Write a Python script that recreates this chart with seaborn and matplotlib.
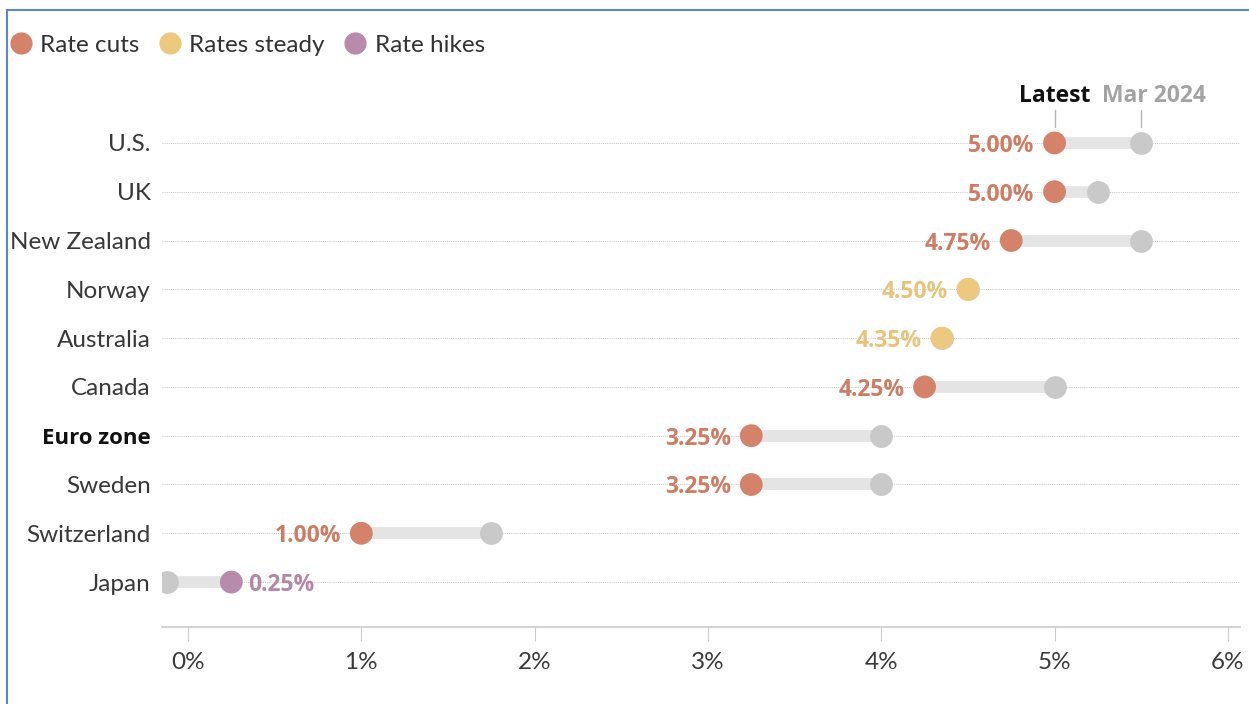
import matplotlib
matplotlib.use("Agg")
import matplotlib.pyplot as plt
import matplotlib.patches as mpatches
from matplotlib.lines import Line2D
import seaborn as sns
import pandas as pd

countries = ["U.S.", "UK", "New Zealand", "Norway", "Australia", "Canada",
             "Euro zone", "Sweden", "Switzerland", "Japan"]
latest = [5.00, 5.00, 4.75, 4.50, 4.35, 4.25, 3.25, 3.25, 1.00, 0.25]
mar2024 = [5.50, 5.25, 5.50, 4.50, 4.35, 5.00, 4.00, 4.00, 1.75, -0.12]
status = ["Rate cuts", "Rate cuts", "Rate cuts", "Rates steady", "Rates steady",
          "Rate cuts", "Rate cuts", "Rate cuts", "Rate cuts", "Rate hikes"]
xticks = [0, 1, 2, 3, 4, 5, 6]

palette = {"Rate cuts": "#d4836a", "Rates steady": "#edc97f", "Rate hikes": "#b88aab"}
text_col = {"Rate cuts": "#cf7c62", "Rates steady": "#e9c37a", "Rate hikes": "#b487a7"}

sns.set_theme(style="white")
plt.rcParams["font.family"] = ["Lato", "DejaVu Sans"]

df = pd.DataFrame({"country": countries, "latest": latest, "mar": mar2024, "status": status})
df["y"] = range(len(df))

fig = plt.figure(figsize=(12.49, 7.04), dpi=100)
ax = fig.add_axes([0.1297, 0.1094, 0.8631, 0.7486])

# dotted gridlines
for yv in df["y"]:
    ax.axhline(yv, color="#c4c4c4", lw=0.7, ls=(0, (1, 1.2)), zorder=0)

# range bars
ax.hlines(df["y"], df[["latest", "mar"]].min(axis=1), df[["latest", "mar"]].max(axis=1),
          color="#e4e4e4", lw=8.5, zorder=1)

sns.scatterplot(data=df, x="mar", y="y", color="#c9c9c9", s=270, linewidth=0,
                ax=ax, zorder=2, legend=False)
sns.scatterplot(data=df, x="latest", y="y", hue="status", palette=palette, s=270,
                linewidth=0, ax=ax, zorder=3, legend=False)

bold_font = ["Open Sans", "DejaVu Sans"]
for _, r in df.iterrows():
    if r["status"] == "Rate hikes":
        ax.annotate(f"{r['latest']:.2f}%", (r["latest"], r["y"]), xytext=(12, 0),
                    textcoords="offset points", ha="left", va="center_baseline",
                    fontsize=16.5, fontweight="bold", color=text_col[r["status"]],
                    family=bold_font)
    else:
        ax.annotate(f"{r['latest']:.2f}%", (r["latest"], r["y"]), xytext=(-14.5, 0),
                    textcoords="offset points", ha="right", va="center_baseline",
                    fontsize=16.5, fontweight="bold", color=text_col[r["status"]],
                    family=bold_font)

ax.set_xlim(-0.15, 6.07)
ax.set_ylim(9.92, -0.88)
ax.set_yticks(df["y"])
ax.set_yticklabels(countries)
for lab in ax.get_yticklabels():
    lab.set_fontsize(17.5)
    lab.set_color("#383838")
    if lab.get_text() == "Euro zone":
        lab.set_fontweight("bold")
        lab.set_family(bold_font)
        lab.set_fontsize(16)
        lab.set_color("#111111")
ax.set_xticks(xticks)
ax.set_xticklabels([f"{t}%" for t in xticks], fontsize=17.5, color="#3a3a3a")
ax.tick_params(axis="y", length=0, pad=8)
ax.tick_params(axis="x", bottom=True, length=10, width=0.8, color="#cccccc", pad=8,
               direction="out")
ax.set_xlabel("")
ax.set_ylabel("")
for s in ["top", "right", "left"]:
    ax.spines[s].set_visible(False)
ax.spines["bottom"].set_color("#cccccc")
ax.spines["bottom"].set_linewidth(1.2)

# column headers
ax.annotate("Latest", (latest[0], 0), xytext=(0, 25), textcoords="offset points",
            ha="center", va="bottom", fontsize=16.5, fontweight="bold", color="#111111",
            family=bold_font)
ax.annotate("Mar 2024", (mar2024[0], 0), xytext=(9, 25), textcoords="offset points",
            ha="center", va="bottom", fontsize=16.5, fontweight="bold", color="#a3a3a3",
            family=bold_font)
for xv in (latest[0], mar2024[0]):
    ax.plot([xv, xv], [-0.68, -0.33], color="#b5b5b5", lw=1, clip_on=False, zorder=1)

# legend
handles = [Line2D([0], [0], marker="o", ls="", markersize=16, markerfacecolor=palette[k],
                  markeredgewidth=0, label=k) for k in palette]
leg = fig.legend(handles=handles, loc="center left", bbox_to_anchor=(-0.0048, 0.936),
                 ncol=3, frameon=False, fontsize=17.5, handlelength=1.0,
                 handletextpad=0.3, columnspacing=0.75, borderaxespad=0.2)
for t in leg.get_texts():
    t.set_color("#333333")

# blue frame
fig.patches.append(mpatches.Rectangle((7 / 1249, -0.05), 1.2, 1 - 10 / 704 + 0.05,
                                      transform=fig.transFigure, fill=False,
                                      edgecolor="#5b87cc", lw=1.5, zorder=10))

fig.savefig("out.png", dpi=100)
